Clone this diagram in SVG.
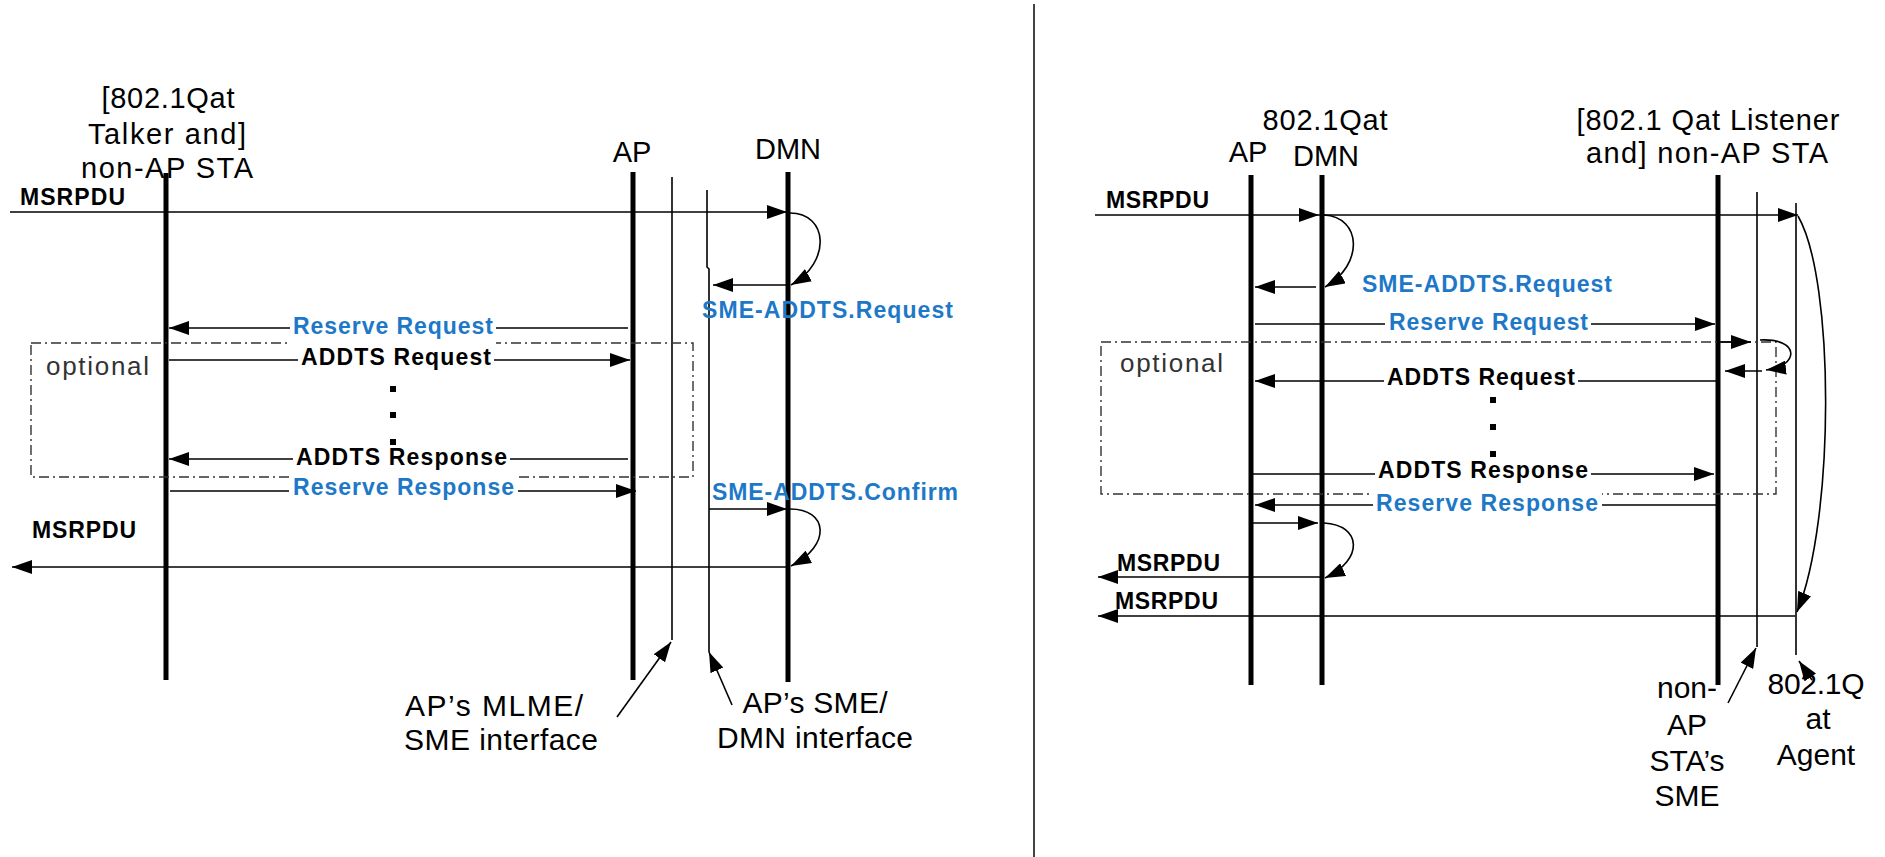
<svg xmlns="http://www.w3.org/2000/svg" width="1885" height="857" viewBox="0 0 1885 857">
<defs>
<marker id="ah" markerUnits="userSpaceOnUse" markerWidth="20" markerHeight="14" refX="20" refY="7" orient="auto"><path d="M0,0 L20,7 L0,14 Z" fill="#000"/></marker>
<style>
.hd{font-family:"Liberation Sans",Arial,sans-serif;font-size:29px;fill:#000;text-anchor:middle}
.an{font-family:"Liberation Sans",Arial,sans-serif;font-size:30px;fill:#000;text-anchor:middle}
.lb{font-family:"Liberation Sans",Arial,sans-serif;font-size:23px;font-weight:bold;fill:#000}
.bl{fill:#1E78C8}
.opt{font-family:"Liberation Sans",Arial,sans-serif;font-size:26px;fill:#333}
.thick{stroke:#000;stroke-width:5;fill:none}
.thin{stroke:#000;stroke-width:1.6;fill:none}
.msg{stroke:#000;stroke-width:1.6;fill:none;marker-end:url(#ah)}
.box{stroke:#333;stroke-width:1.4;fill:none;stroke-dasharray:10 4 2 4}
.bg{fill:#fff}
</style>
</defs>
<rect width="1885" height="857" fill="#fff"/>

<!-- separator -->
<line x1="1034" y1="4" x2="1034" y2="857" stroke="#444" stroke-width="2"/>

<!-- LEFT PANEL nodes -->
<g id="left-sta">
<line class="thick" x1="166" y1="173" x2="166" y2="680"/>
<text class="hd" x="168" y="108" textLength="133" lengthAdjust="spacing">[802.1Qat</text>
<text class="hd" x="167" y="144" textLength="158" lengthAdjust="spacing">Talker and]</text>
<text class="hd" x="167" y="178" textLength="172" lengthAdjust="spacing">non-AP STA</text>
</g>
<g id="left-ap">
<line class="thick" x1="633" y1="172" x2="633" y2="680"/>
<text class="hd" x="632" y="162">AP</text>
</g>
<g id="left-mlme-sme">
<line class="thin" x1="672" y1="177" x2="672" y2="640"/>
</g>
<g id="left-sme-dmn">
<polyline class="thin" points="707,190 707,267 709,269 709,652"/>
</g>
<g id="left-dmn">
<line class="thick" x1="788" y1="172" x2="788" y2="682" stroke-width="4.5"/>
<text class="hd" x="788" y="159">DMN</text>
</g>
<g id="left-optional">
<rect class="box" x="31" y="343" width="662" height="134"/>
<text class="opt" x="46" y="375" textLength="103" lengthAdjust="spacing">optional</text>
</g>

<!-- RIGHT PANEL nodes -->
<g id="right-ap">
<line class="thick" x1="1251" y1="175" x2="1251" y2="685"/>
<text class="hd" x="1248" y="162">AP</text>
</g>
<g id="right-dmn">
<line class="thick" x1="1322" y1="175" x2="1322" y2="685"/>
<text class="hd" x="1325" y="130" textLength="125" lengthAdjust="spacing">802.1Qat</text>
<text class="hd" x="1326" y="166">DMN</text>
</g>
<g id="right-sta">
<line class="thick" x1="1718" y1="175" x2="1718" y2="685"/>
<text class="hd" x="1708" y="130" textLength="263" lengthAdjust="spacing">[802.1 Qat Listener</text>
<text class="hd" x="1707" y="163" textLength="242" lengthAdjust="spacing">and] non-AP STA</text>
</g>
<g id="right-sme">
<line class="thin" x1="1757" y1="192" x2="1757" y2="647"/>
</g>
<g id="right-agent">
<line class="thin" x1="1796" y1="203" x2="1796" y2="655"/>
</g>
<g id="right-optional">
<rect class="box" x="1101" y="342" width="675" height="152"/>
<text class="opt" x="1120" y="372" textLength="103" lengthAdjust="spacing">optional</text>
</g>

<!-- CONNECTORS -->
<g id="connectors">
<!-- left -->
<line class="msg" x1="10" y1="212" x2="787" y2="212"/>
<path class="msg" d="M790,213 C828,213 832,262 791,285"/>
<line class="msg" x1="786" y1="285" x2="713" y2="285"/>
<line class="msg" x1="628" y1="328" x2="169" y2="328"/>
<line class="msg" x1="169" y1="360" x2="630" y2="360"/>
<line class="msg" x1="628" y1="459" x2="169" y2="459"/>
<line class="msg" x1="170" y1="491" x2="636" y2="491"/>
<line class="msg" x1="709" y1="509" x2="787" y2="509"/>
<path class="msg" d="M790,509 C828,509 832,545 791,566"/>
<line class="msg" x1="786" y1="567" x2="12" y2="567"/>
<line class="msg" x1="617" y1="717" x2="671" y2="642"/>
<line class="msg" x1="732" y1="705" x2="709" y2="652"/>
<!-- right -->
<line class="msg" x1="1095" y1="215" x2="1319" y2="215"/>
<line class="msg" x1="1319" y1="215" x2="1798" y2="215"/>
<path class="msg" d="M1324,215 C1362,217 1364,265 1325,287"/>
<line class="msg" x1="1316" y1="287" x2="1255" y2="287"/>
<line class="msg" x1="1255" y1="324" x2="1715" y2="324"/>
<line class="msg" x1="1720" y1="342" x2="1751" y2="342"/>
<path class="msg" d="M1760,340 C1800,338 1800,366 1766,370"/>
<line class="msg" x1="1762" y1="371" x2="1725" y2="371"/>
<line class="msg" x1="1716" y1="381" x2="1255" y2="381"/>
<line class="msg" x1="1253" y1="474" x2="1714" y2="474"/>
<line class="msg" x1="1716" y1="505" x2="1255" y2="505"/>
<line class="msg" x1="1253" y1="523" x2="1318" y2="523"/>
<path class="msg" d="M1324,523 C1362,525 1364,560 1325,578"/>
<line class="msg" x1="1320" y1="577" x2="1098" y2="577"/>
<line class="msg" x1="1795" y1="616" x2="1098" y2="616"/>
<path class="msg" d="M1798,216 C1835,280 1835,520 1797,612"/>
<line class="msg" x1="1728" y1="703" x2="1756" y2="648"/>
<line class="msg" x1="1812" y1="680" x2="1799" y2="661"/>
</g>

<!-- message labels -->
<g id="labels">
<rect class="bg" x="290" y="314" width="206" height="31"/>
<text class="lb bl" x="293" y="334" textLength="200" lengthAdjust="spacing">Reserve Request</text>
<rect class="bg" x="298" y="345" width="196" height="28"/>
<text class="lb" x="301" y="365" textLength="190" lengthAdjust="spacing">ADDTS Request</text>
<rect class="bg" x="293" y="445" width="217" height="28"/>
<text class="lb" x="296" y="465" textLength="211" lengthAdjust="spacing">ADDTS Response</text>
<rect class="bg" x="289" y="475" width="229" height="29"/>
<text class="lb bl" x="293" y="495" textLength="221" lengthAdjust="spacing">Reserve Response</text>
<text class="lb bl" x="702" y="318" textLength="251" lengthAdjust="spacing">SME-ADDTS.Request</text>
<text class="lb bl" x="712" y="500" textLength="246" lengthAdjust="spacing">SME-ADDTS.Confirm</text>
<text class="lb" x="20" y="205" textLength="105" lengthAdjust="spacing">MSRPDU</text>
<text class="lb" x="32" y="538" textLength="104" lengthAdjust="spacing">MSRPDU</text>
<rect x="390" y="386" width="6" height="6"/>
<rect x="390" y="412" width="6" height="6"/>
<rect x="390" y="439" width="6" height="6"/>

<text class="lb" x="1106" y="208" textLength="103" lengthAdjust="spacing">MSRPDU</text>
<text class="lb bl" x="1362" y="292" textLength="250" lengthAdjust="spacing">SME-ADDTS.Request</text>
<rect class="bg" x="1385" y="310" width="206" height="28"/>
<text class="lb bl" x="1389" y="330" textLength="199" lengthAdjust="spacing">Reserve Request</text>
<rect class="bg" x="1384" y="365" width="194" height="28"/>
<text class="lb" x="1387" y="385" textLength="188" lengthAdjust="spacing">ADDTS Request</text>
<rect class="bg" x="1375" y="458" width="216" height="28"/>
<text class="lb" x="1378" y="478" textLength="210" lengthAdjust="spacing">ADDTS Response</text>
<rect class="bg" x="1373" y="491" width="229" height="29"/>
<text class="lb bl" x="1376" y="511" textLength="222" lengthAdjust="spacing">Reserve Response</text>
<text class="lb" x="1117" y="571" textLength="103" lengthAdjust="spacing">MSRPDU</text>
<text class="lb" x="1115" y="609" textLength="103" lengthAdjust="spacing">MSRPDU</text>
<rect x="1490" y="397" width="6" height="6"/>
<rect x="1490" y="424" width="6" height="6"/>
<rect x="1490" y="451" width="6" height="6"/>
</g>

<!-- annotations -->
<g id="annot-mlme">
<text class="an" x="494" y="716" textLength="178" lengthAdjust="spacing">AP’s MLME/</text>
<text class="an" x="501" y="750" textLength="194" lengthAdjust="spacing">SME interface</text>
</g>
<g id="annot-smedmn">
<text class="an" x="815" y="713" textLength="145" lengthAdjust="spacing">AP’s SME/</text>
<text class="an" x="815" y="748" textLength="196" lengthAdjust="spacing">DMN interface</text>
</g>
<g id="annot-sta-sme">
<text class="an" x="1687" y="698">non-</text>
<text class="an" x="1687" y="735">AP</text>
<text class="an" x="1687" y="771">STA’s</text>
<text class="an" x="1687" y="806">SME</text>
</g>
<g id="annot-agent">
<text class="an" x="1816" y="694" textLength="97" lengthAdjust="spacing">802.1Q</text>
<text class="an" x="1818" y="729">at</text>
<text class="an" x="1816" y="765">Agent</text>
</g>
</svg>
